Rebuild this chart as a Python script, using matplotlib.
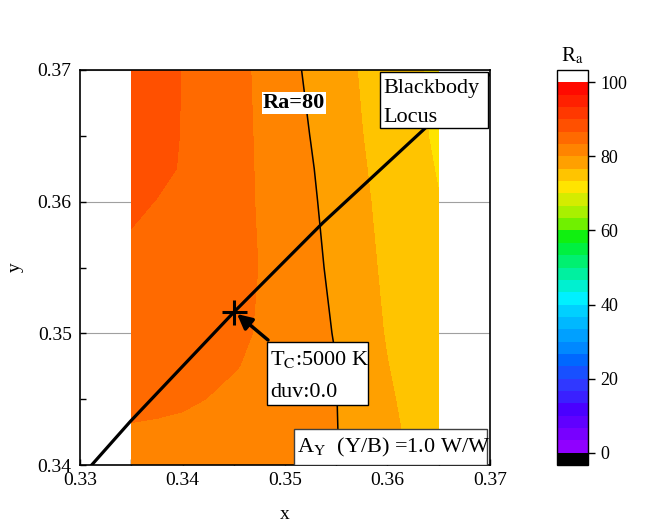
import numpy as np
import matplotlib
matplotlib.use("Agg")
import matplotlib.pyplot as plt
from matplotlib.colors import ListedColormap
from matplotlib.patches import Rectangle

plt.rcParams['font.family'] = ['Liberation Serif', 'DejaVu Serif']
plt.rcParams['mathtext.fontset'] = 'stix'

# ---------------- data ----------------
x_grid = [0.335, 0.3375, 0.34, 0.3425, 0.345, 0.3475, 0.35, 0.3525, 0.355, 0.3575, 0.36, 0.3625, 0.365]
y_grid = [0.34, 0.3425, 0.345, 0.3475, 0.35, 0.355, 0.36, 0.3625, 0.365, 0.37]
ra_y03400 = [82.9, 82.8, 82.6, 82.3, 82.0, 81.6, 81.1, 80.8, 80.2, 78.9, 77.65, 76.5, 75.3]
ra_y03425 = [83.1, 83.0, 82.9, 82.7, 82.4, 81.95, 81.35, 80.75, 80.1, 78.6, 77.35, 76.1, 74.9]
ra_y03450 = [83.9, 83.8, 83.6, 83.3, 82.67, 82.0, 81.33, 80.67, 80.05, 78.54, 77.08, 75.77, 74.5]
ra_y03475 = [84.6, 84.35, 84.05, 83.75, 83.5, 82.78, 81.87, 80.96, 80.05, 78.4, 76.74, 75.47, 74.2]
ra_y03500 = [85.3, 84.9, 84.5, 84.1, 83.7, 83.2, 82.1, 81.0, 79.8, 78.06, 76.42, 75.2, 73.9]
ra_y03550 = [85.6, 85.2, 84.8, 84.4, 83.9, 83.3, 82.05, 80.77, 79.3, 77.56, 76.07, 74.8, 73.6]
ra_y03600 = [87.4, 86.57, 85.74, 84.9, 84.07, 83.17, 81.8, 80.44, 78.84, 77.14, 75.81, 74.62, 73.43]
ra_y03625 = [88.5, 87.49, 86.41, 85.33, 84.24, 83.09, 81.67, 80.23, 78.6, 76.94, 75.62, 74.37, 73.12]
ra_y03650 = [88.7, 87.67, 86.53, 85.39, 84.25, 83.03, 81.5, 79.95, 78.37, 76.73, 75.42, 74.12, 72.8]
ra_y03700 = [88.5, 87.7, 86.6, 85.4, 84.2, 82.9, 81.1, 79.4, 77.9, 76.4, 75.1, 73.85, 72.6]

locus_x = [0.3300, 0.3349, 0.3450, 0.3537, 0.3637, 0.3700]
locus_y = [0.3390, 0.3433, 0.3516, 0.3584, 0.3656, 0.3697]

point_x = [0.345]
point_y = [0.3516]

ra_levels = np.linspace(0, 100, 31)
cbar_ticks = [0, 20, 40, 60, 80, 100]
band_colors = [
    '#9000ff', '#7800ff', '#6000ff', '#4a00ff', '#3a20ff', '#3038ff',
    '#1850ff', '#0068ff', '#0088ff', '#00a0ff', '#00b8ff', '#00d0ff',
    '#00f0ff', '#00f0d0', '#00f0a0', '#00f070', '#00f040', '#10f010',
    '#70f000', '#a8f000', '#d4ec00',
    '#ffe400', '#ffc400', '#ffa000', '#ff8400', '#ff6a00', '#ff5000',
    '#ff3800', '#ff2000', '#ff0a00',
]

# ---------------- figure ----------------
W, H = 646, 525
fig = plt.figure(figsize=(W / 100, H / 100), dpi=100)
ax = fig.add_axes([80 / W, 60 / H, 410 / W, 395 / H])

X, Y = np.meshgrid(x_grid, y_grid)
Ra = np.array([ra_y03400, ra_y03425, ra_y03450, ra_y03475, ra_y03500,
               ra_y03550, ra_y03600, ra_y03625, ra_y03650, ra_y03700])

cmap = ListedColormap(band_colors)
cmap.set_under('black')
cmap.set_over('white')

ax.set_axisbelow(True)
ax.yaxis.grid(True, color='#a0a0a0', lw=0.8)
cf = ax.contourf(X, Y, Ra, levels=ra_levels, cmap=cmap, extend='both', zorder=1)
ax.contour(X, Y, Ra, levels=[80], colors='black', linewidths=1.1, zorder=2)

ax.plot(locus_x, locus_y, color='black', lw=2.3, zorder=3, solid_capstyle='butt')
ax.plot(point_x, point_y, marker='+', ms=18, mew=2.2, color='black', ls='none', zorder=4)

ax.set_xlim(0.33, 0.37)
ax.set_ylim(0.34, 0.37)
ax.set_xticks([0.33, 0.34, 0.35, 0.36, 0.37])
ax.set_yticks([0.34, 0.35, 0.36, 0.37])
ax.set_xticks(np.arange(0.335, 0.37, 0.01), minor=True)
ax.set_yticks(np.arange(0.345, 0.37, 0.01), minor=True)
ax.xaxis.set_major_formatter(matplotlib.ticker.FormatStrFormatter('%.2f'))
ax.yaxis.set_major_formatter(matplotlib.ticker.FormatStrFormatter('%.2f'))
ax.tick_params(which='both', direction='in', length=4.5, width=1.0, labelsize=14,
               top=False, right=False)
ax.tick_params(axis='x', which='major', pad=5)
ax.tick_params(axis='y', which='major', pad=6)
for s in ax.spines.values():
    s.set_linewidth(1.2)
ax.set_xlabel('x', fontsize=14, labelpad=12)
ax.set_ylabel('y', fontsize=14, labelpad=10)


def dx(px):
    return 0.33 + (px - 80) / 410 * 0.04


def dy(py):
    return 0.37 - (py - 70) / 395 * 0.03


# Ra=80 label
ax.text(dx(294), dy(103), 'Ra=80', fontsize=16, fontweight='bold', ha='center', va='center',
        zorder=6, bbox=dict(fc='white', ec='none', pad=0.5))

# Blackbody Locus box
ax.add_patch(Rectangle((dx(380), dy(128)), dx(488) - dx(380), dy(72) - dy(128),
                       fc='white', ec='black', lw=1.0, zorder=5))
ax.text(dx(383), dy(93), 'Blackbody', fontsize=16, ha='left', va='baseline', zorder=6)
ax.text(dx(383), dy(122), 'Locus', fontsize=16, ha='left', va='baseline', zorder=6)

# Tc box
ax.add_patch(Rectangle((dx(267), dy(405)), dx(368) - dx(267), dy(342) - dy(405),
                       fc='white', ec='black', lw=1.0, zorder=5))
ax.text(dx(270), dy(365), r'T$_\mathrm{C}$:5000 K', fontsize=16, ha='left', va='baseline', zorder=6)
ax.text(dx(270), dy(397), 'duv:0.0', fontsize=16, ha='left', va='baseline', zorder=6)

# arrow
ax.annotate('', xy=(dx(237), dy(314)), xytext=(dx(268), dy(340)),
            arrowprops=dict(arrowstyle='-|>', color='black', lw=2.5, mutation_scale=22,
                            shrinkA=0, shrinkB=0), zorder=6)

# A_Y box
ax.add_patch(Rectangle((dx(294), dy(465)), dx(487) - dx(294), dy(429) - dy(465),
                       fc='white', ec='#404040', lw=1.0, zorder=5))
ax.text(dx(297), dy(452), r'A$_\mathrm{Y}$  (Y/B) =1.0 W/W', fontsize=16, ha='left',
        va='baseline', zorder=6)

# colorbar
cax = fig.add_axes([557 / W, 60 / H, 31 / W, 395 / H])
cb = fig.colorbar(cf, cax=cax, ticks=cbar_ticks, extendrect=True, extendfrac=0.033)
cb.outline.set_linewidth(1.0)
cax.tick_params(direction='out', length=5, width=1.0, labelsize=13, pad=4)
cax.set_title(r'R$_\mathrm{a}$', fontsize=15, pad=6)

fig.savefig('out.png', dpi=100)
